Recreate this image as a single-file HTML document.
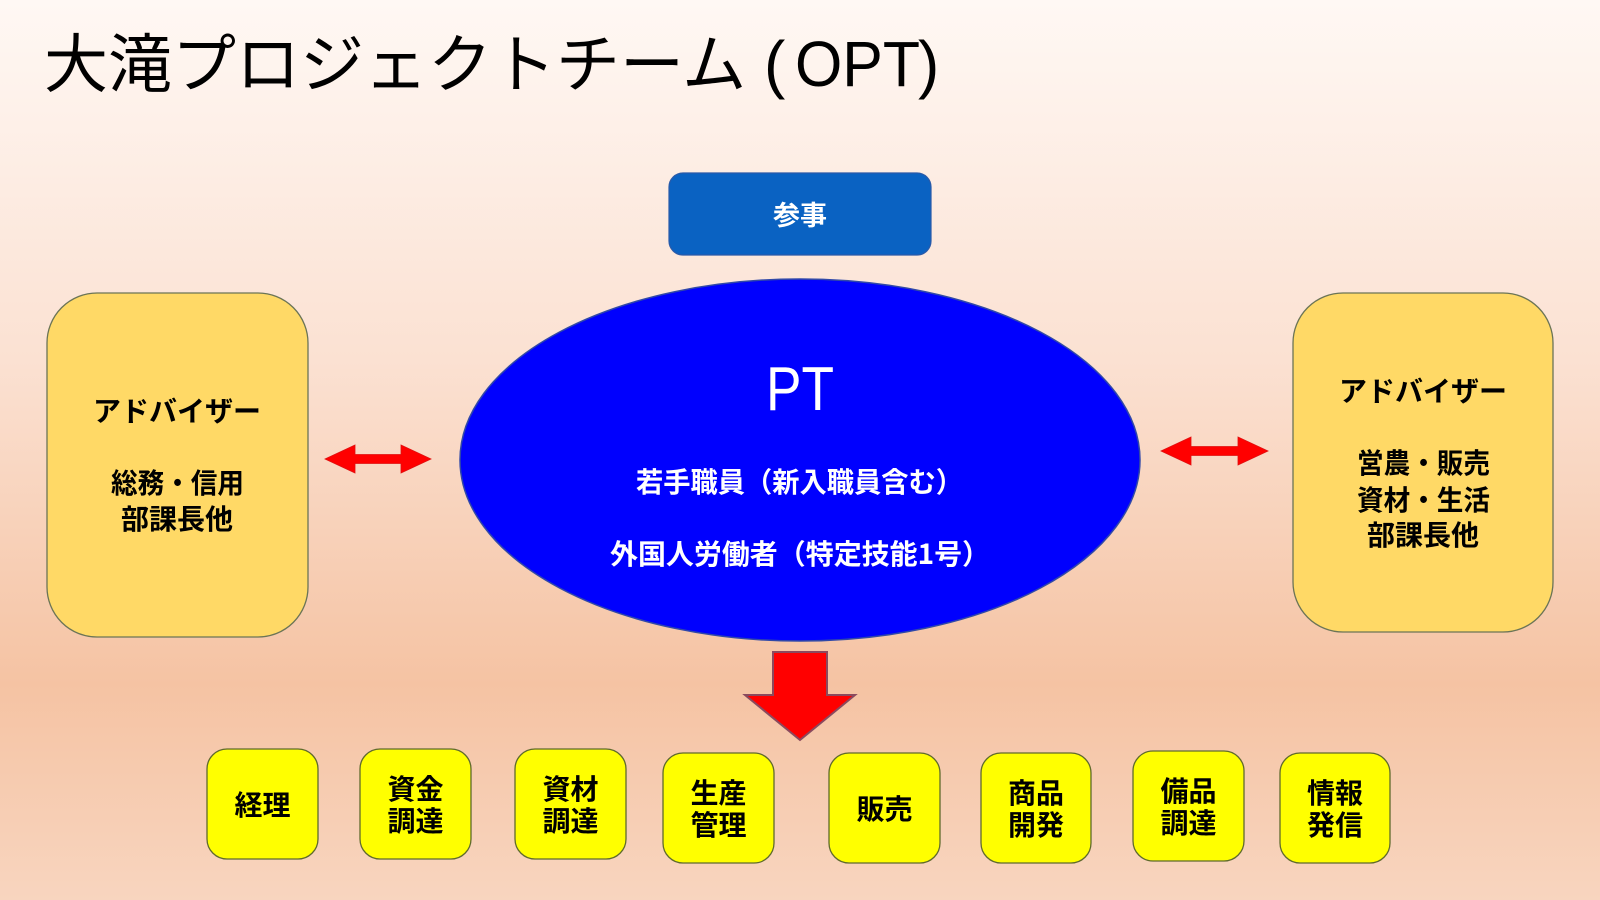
<!DOCTYPE html>
<html>
<head>
<meta charset="utf-8">
<style>
html,body{margin:0;padding:0;width:1600px;height:900px;overflow:hidden;}
svg{display:block;}
text{font-family:"Liberation Sans","Noto Sans CJK JP",sans-serif;}
.cj{font-family:"Noto Sans CJK JP","Liberation Sans",sans-serif;}
</style>
</head>
<body>
<svg width="1600" height="900" viewBox="0 0 1600 900" xmlns="http://www.w3.org/2000/svg">
  <defs>
    <linearGradient id="bg" x1="0" y1="0" x2="0" y2="1">
      <stop offset="0" stop-color="#fff8f4"/>
      <stop offset="0.4" stop-color="#fbe1d2"/>
      <stop offset="0.76" stop-color="#f5c3a3"/>
      <stop offset="1" stop-color="#f8d5bf"/>
    </linearGradient>
  </defs>
  <rect x="0" y="0" width="1600" height="900" fill="url(#bg)"/>

  <!-- Title -->
  <text x="44" y="87" font-size="64" fill="#000" class="cj">大滝プロジェクトチーム</text>
  <text x="764" y="86" font-size="64" fill="#000" font-family="Liberation Sans">(</text>
  <text x="795" y="86" font-size="64" fill="#000" font-family="Liberation Sans" textLength="125" lengthAdjust="spacingAndGlyphs">OPT</text>
  <text x="918" y="86" font-size="64" fill="#000" font-family="Liberation Sans">)</text>

  <!-- 参事 box -->
  <rect x="669" y="173" width="262" height="82" rx="14" ry="14" fill="#0a62c2" stroke="#2a5aa8" stroke-width="1.2"/>
  <text x="800" y="225" font-size="27" font-weight="bold" fill="#fff" text-anchor="middle" class="cj">参事</text>

  <!-- Ellipse -->
  <ellipse cx="800" cy="460" rx="340" ry="181" fill="#0000fe" stroke="#3048a8" stroke-width="1.5"/>
  <text x="766" y="410" font-size="62" fill="#fff" font-family="Liberation Sans" textLength="68" lengthAdjust="spacingAndGlyphs">PT</text>
  <text x="636" y="492" font-size="28" font-weight="bold" fill="#fff" class="cj" textLength="327" lengthAdjust="spacingAndGlyphs">若手職員（新入職員含む）</text>
  <text x="610" y="564" font-size="28" font-weight="bold" fill="#fff" class="cj" textLength="380" lengthAdjust="spacingAndGlyphs">外国人労働者（特定技能1号）</text>

  <!-- Left advisor box -->
  <rect x="47" y="293" width="261" height="344" rx="50" ry="50" fill="#ffd966" stroke="#6b7456" stroke-width="1.3"/>
  <text x="177" y="421" font-size="28" font-weight="bold" fill="#000" text-anchor="middle" class="cj">アドバイザー</text>
  <text x="111" y="493" font-size="28" font-weight="bold" fill="#000" class="cj" textLength="133" lengthAdjust="spacingAndGlyphs">総務・信用</text>
  <text x="177" y="529" font-size="28" font-weight="bold" fill="#000" text-anchor="middle" class="cj">部課長他</text>

  <!-- Right advisor box -->
  <rect x="1293" y="293" width="260" height="339" rx="50" ry="50" fill="#ffd966" stroke="#6b7456" stroke-width="1.3"/>
  <text x="1423" y="401" font-size="28" font-weight="bold" fill="#000" text-anchor="middle" class="cj">アドバイザー</text>
  <text x="1357" y="473" font-size="28" font-weight="bold" fill="#000" class="cj" textLength="133" lengthAdjust="spacingAndGlyphs">営農・販売</text>
  <text x="1357" y="510" font-size="28" font-weight="bold" fill="#000" class="cj" textLength="133" lengthAdjust="spacingAndGlyphs">資材・生活</text>
  <text x="1423" y="545" font-size="28" font-weight="bold" fill="#000" text-anchor="middle" class="cj">部課長他</text>

  <!-- Left double arrow -->
  <polygon points="325,459 355,445 355,454.5 401,454.5 401,445 431,459 401,473 401,463.5 355,463.5 355,473" fill="#ff0000" stroke="#e01010" stroke-width="0.8"/>
  <!-- Right double arrow -->
  <polygon points="1161,451 1191,437 1191,446.5 1238,446.5 1238,437 1268,451 1238,465 1238,455.5 1191,455.5 1191,465" fill="#ff0000" stroke="#e01010" stroke-width="0.8"/>

  <!-- Down arrow -->
  <polygon points="773,652 827,652 827,695 855,695 800,740 745,695 773,695" fill="#ff0000" stroke="#8a4a5e" stroke-width="2"/>

  <!-- Bottom boxes -->
  <g fill="#ffff00" stroke="#5f6a2c" stroke-width="1.3">
    <rect x="207" y="749" width="111" height="110" rx="20" ry="20"/>
    <rect x="360" y="749" width="111" height="110" rx="20" ry="20"/>
    <rect x="515" y="749" width="111" height="110" rx="20" ry="20"/>
    <rect x="663" y="753" width="111" height="110" rx="20" ry="20"/>
    <rect x="829" y="753" width="111" height="110" rx="20" ry="20"/>
    <rect x="981" y="753" width="110" height="110" rx="20" ry="20"/>
    <rect x="1133" y="751" width="111" height="110" rx="20" ry="20"/>
    <rect x="1280" y="753" width="110" height="110" rx="20" ry="20"/>
  </g>
  <g font-size="28" font-weight="bold" fill="#000" text-anchor="middle" class="cj">
    <text x="262.5" y="815" class="cj">経理</text>

    <text x="415.5" y="799" class="cj">資金</text>
    <text x="415.5" y="831" class="cj">調達</text>

    <text x="570.5" y="799" class="cj">資材</text>
    <text x="570.5" y="831" class="cj">調達</text>

    <text x="718.5" y="803" class="cj">生産</text>
    <text x="718.5" y="835" class="cj">管理</text>

    <text x="884.5" y="819" class="cj">販売</text>

    <text x="1036" y="803" class="cj">商品</text>
    <text x="1036" y="835" class="cj">開発</text>

    <text x="1188.5" y="801" class="cj">備品</text>
    <text x="1188.5" y="833" class="cj">調達</text>

    <text x="1335" y="803" class="cj">情報</text>
    <text x="1335" y="835" class="cj">発信</text>
  </g>
</svg>
</body>
</html>
